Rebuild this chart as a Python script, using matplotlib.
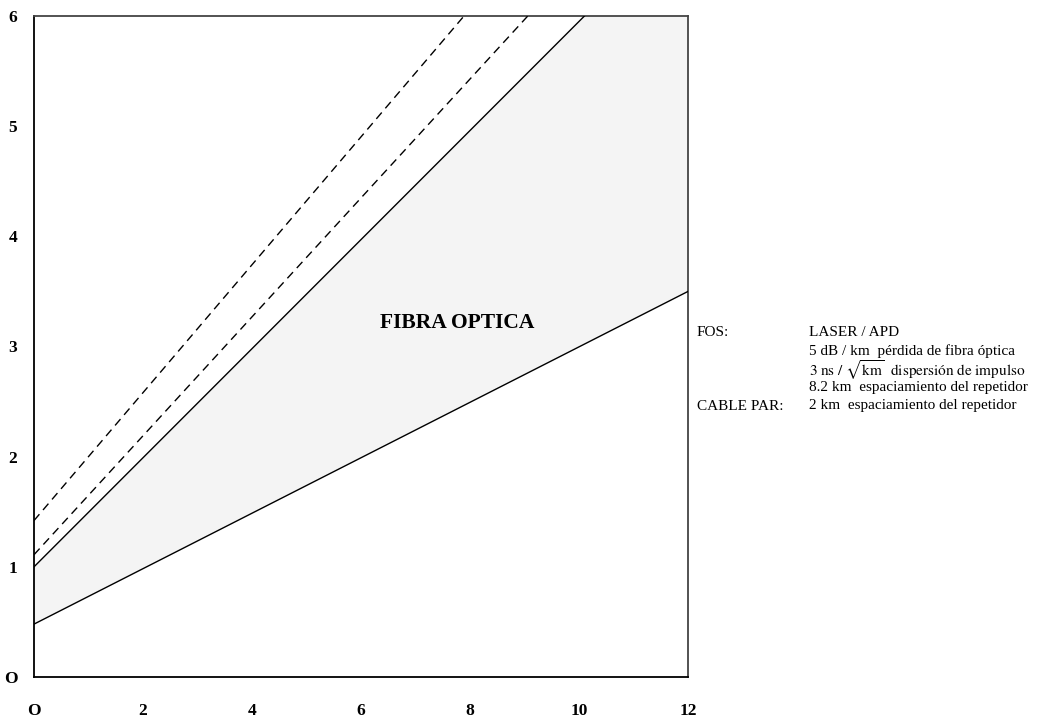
import matplotlib
matplotlib.use("Agg")
import matplotlib.pyplot as plt
import numpy as np

plt.rcParams['font.family'] = ['Liberation Serif', 'DejaVu Serif']
plt.rcParams['mathtext.fontset'] = 'stix'

# Data
x_ticks = [0, 2, 4, 6, 8, 10, 12]
x_tick_labels = ['O', '2', '4', '6', '8', '10', '12']
y_ticks = [0, 1, 2, 3, 4, 5, 6]
y_tick_labels = ['O', '1', '2', '3', '4', '5', '6']

# lines: endpoints
cable_x = [0, 12]
cable_y = [0.48, 3.5]
fos_x = [0, 10.1]
fos_y = [1.0, 6.0]
dash1_x = [0, 9.06]
dash1_y = [1.11, 6.0]
dash2_x = [0, 7.89]
dash2_y = [1.42, 6.0]

region_label = 'FIBRA OPTICA'
legend_left = ['FOS:', '', '', '', 'CABLE PAR:']
legend_right = ['LASER / APD',
                '5 dB / km  pérdida de fibra óptica',
                r'$\mathrm{3\ ns\ /\ }\sqrt{\mathrm{km}}\mathrm{\ \ dispersión\ de\ impulso}$',
                '8.2 km  espaciamiento del repetidor',
                '2 km  espaciamiento del repetidor']

fig = plt.figure(figsize=(10.39, 7.18), dpi=100)
ax = fig.add_axes([34/1039, 1-677/718, (688-34)/1039, (677-16)/718])
ax.set_xlim(0, 12)
ax.set_ylim(0, 6)

# shaded region
poly_x = [cable_x[0], cable_x[1], cable_x[1], fos_x[1], fos_x[0]]
poly_y = [cable_y[0], cable_y[1], fos_y[1], fos_y[1], fos_y[0]]
ax.fill(poly_x, poly_y, facecolor='#f4f4f4', edgecolor='none', zorder=1)

ax.plot(cable_x, cable_y, color='black', lw=1.0, zorder=3)
ax.plot(fos_x, fos_y, color='black', lw=1.0, zorder=3)
ax.plot(dash1_x, dash1_y, color='black', lw=1.0, dashes=(6, 4), zorder=3)
ax.plot(dash2_x, dash2_y, color='black', lw=1.0, dashes=(6, 4), zorder=3)

ax.text(6.35, 3.21, region_label, fontsize=15.5, fontweight='bold', va='center', ha='left')

ax.set_xticks(x_ticks)
ax.set_xticklabels(x_tick_labels, fontsize=12.5, fontweight='bold')
ax.set_yticks(y_ticks)
ax.set_yticklabels(y_tick_labels, fontsize=12.5, fontweight='bold')
ax.tick_params(axis='both', length=0)
ax.tick_params(axis='x', pad=19)
ax.tick_params(axis='y', pad=12)

for s in ['left', 'bottom']:
    ax.spines[s].set_color('black')
    ax.spines[s].set_linewidth(1.3)
for s in ['top', 'right']:
    ax.spines[s].set_color('#444444')
    ax.spines[s].set_linewidth(1.3)

rows_y = [333, 351.5, 370, 388, 406]
for l, r, yp in zip(legend_left, legend_right, rows_y):
    if l:
        fig.text(697/1039, 1-yp/718, l, fontsize=11, va='center', ha='left')
    fig.text(809/1039, 1-yp/718, r, fontsize=11, va='center', ha='left')

fig.savefig('out.png', dpi=100)
